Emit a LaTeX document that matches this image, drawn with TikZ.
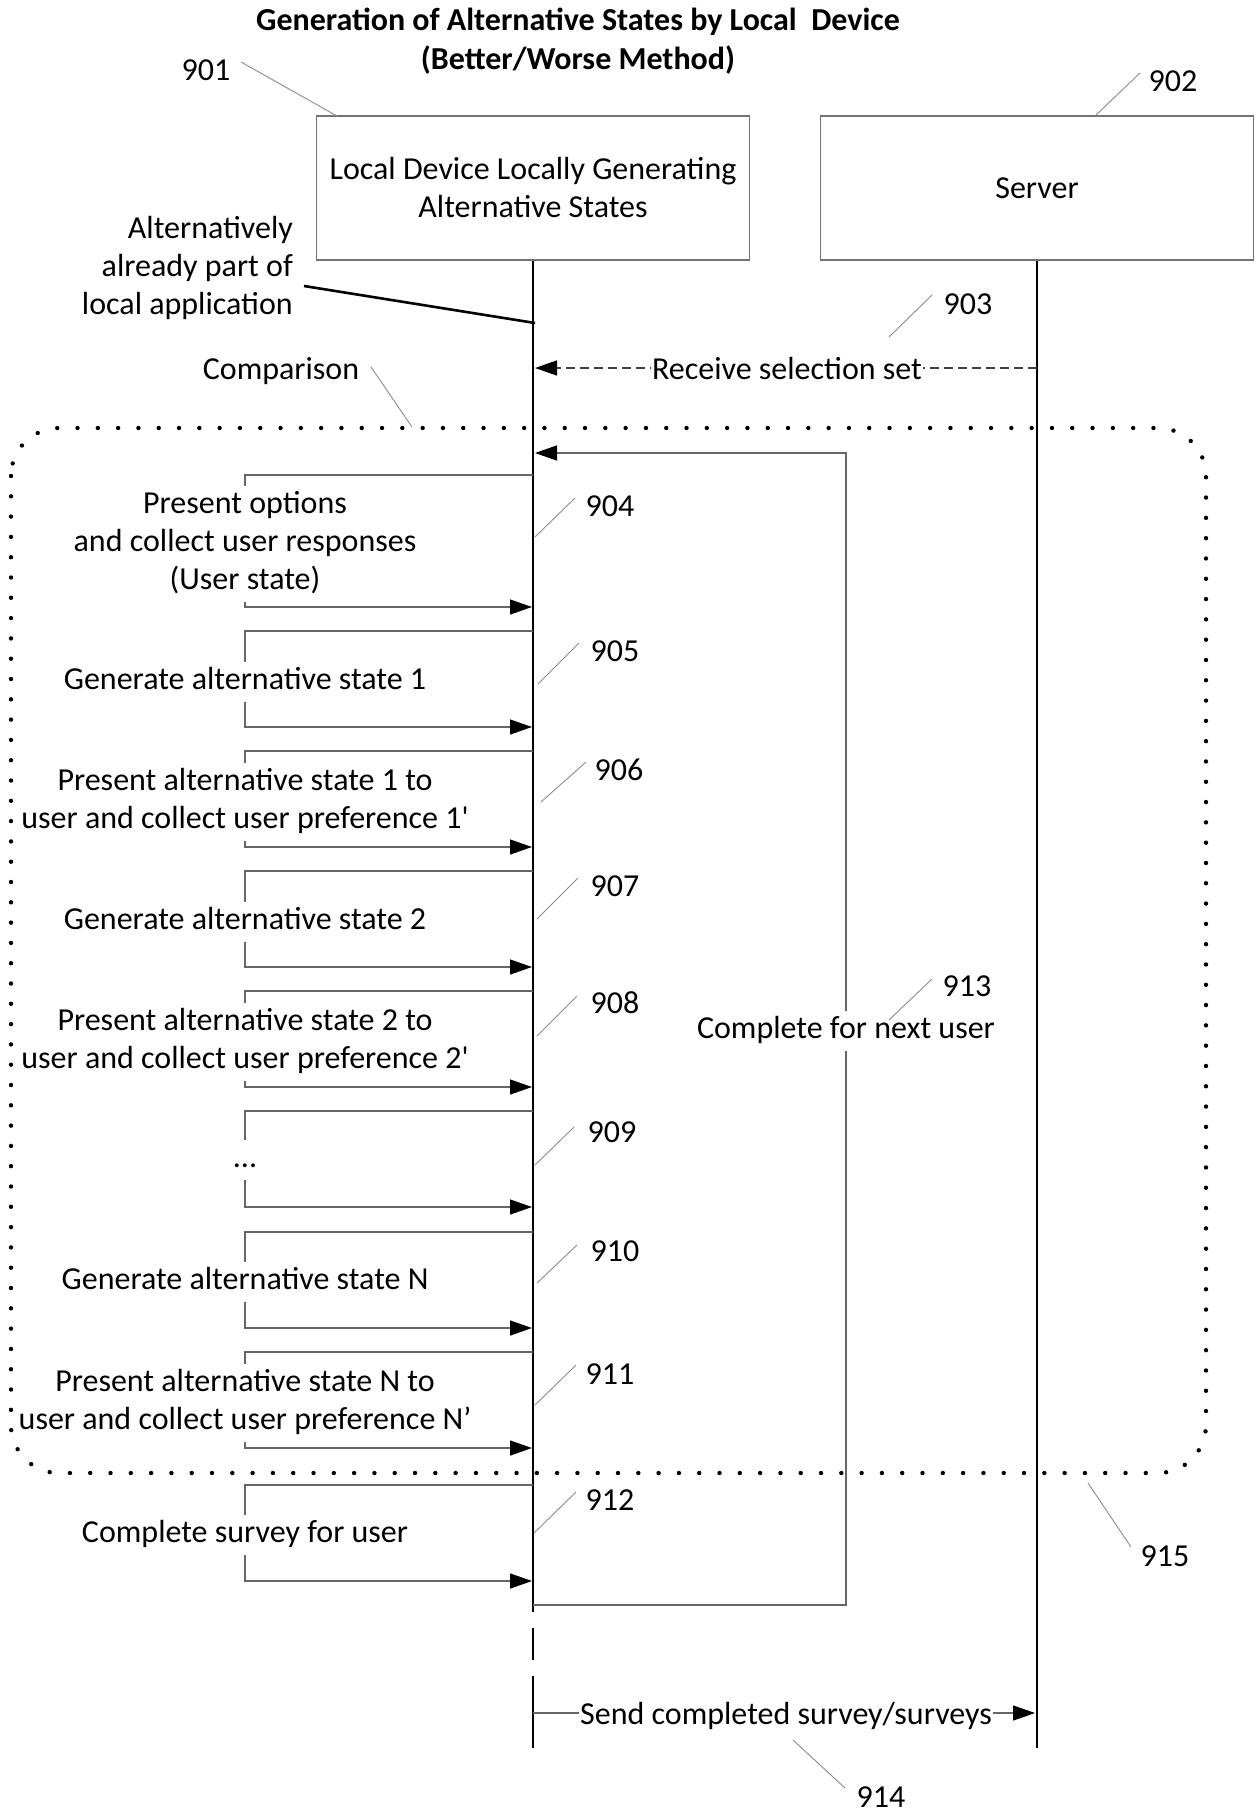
\documentclass[tikz,border=0pt]{standalone}
\usepackage{fontspec}
\setmainfont{Carlito}[Ligatures=TeXOff]
\usetikzlibrary{arrows.meta}

% a call from the device lifeline to itself, routed round its label
\newcommand{\loopmsg}[5]{% #1 name, #2 top y, #3 arrow y, #4 label y, #5 label
  \coordinate (#1t) at (533,#2);
  \coordinate (#1a) at (532,#3);
  \node[msgtext] (#1) at (245,#4) {\strut #5\strut};
  \draw[msg] (#1t) -| (#1.north);
  \draw[msg,arrowend] (#1.south) |- (#1a);
}
% reference numeral with its leader line
\newcommand{\refmark}[5]{%
  \node[lbl] (r#1) at (#2,#3) {#1};
  \draw[lead] (#4) -- (#5);
}

\begin{document}
\begin{tikzpicture}[x=1pt,y=-1pt,
  txt/.style={font=\fontsize{32}{38}\selectfont, inner sep=0pt, align=center},
  lbl/.style={txt},
  box/.style={txt, draw=black!55, line width=1.2pt, minimum width=433pt, minimum height=144pt},
  life/.style={line width=2.4pt, black},
  msg/.style={draw=black!60, line width=1.4pt},
  arrowend/.style={-{Triangle[length=22pt,width=15pt,color=black]}},
  msgtext/.style={txt, fill=white, inner xsep=3pt, inner ysep=1pt},
  lead/.style={draw=black!45, line width=0.9pt},
  dotbox/.style={line width=4.4pt, line cap=round, dash pattern=on 0pt off 20.3pt, rounded corners=48pt}
]
\fill[white] (0,0) rectangle (1256,1812);
\useasboundingbox (0,0) rectangle (1256,1812);

% title
\node[txt, font=\fontsize{32}{39}\selectfont\bfseries] (title) at (578,41)
  {Generation of Alternative States by Local\ \ Device\\(Better/Worse Method)};

% participants
\node[box] (dev) at (533,188) {Local Device Locally Generating\\Alternative States};
\node[box] (srv) at (1037,188) {Server};

% comparison frame
\draw[dotbox] (11,428) rectangle (1206,1473);

% lifelines
\coordinate (devA) at (533,1612);
\coordinate (devB) at (533,1628);
\coordinate (devC) at (533,1660);
\coordinate (devD) at (533,1676);
\coordinate (devE) at (533,1748);
\coordinate (srvE) at (1037,1748);
\draw[life] (dev.south) -- (devA);
\draw[life] (devB) -- (devC);
\draw[life] (devD) -- (devE);
\draw[life] (srv.south) -- (srvE);

% numerals of the participants
\refmark{901}{206}{70}{241,62}{337,116}
\refmark{902}{1173}{81}{1140,73}{1096,115}

% side note
\node[txt, align=right, anchor=east] (alt) at (293,268)
  {Alternatively\\already part of\\local application};
\coordinate (altA) at (304,286);
\coordinate (altB) at (535,323);
\draw[line width=2.6pt] (altA) -- (altB);

% selection set from the server
\coordinate (rcvS) at (1037,368);
\coordinate (rcvE) at (535,368);
\draw[draw=black!75, line width=1.4pt, dash pattern=on 9pt off 5pt, arrowend] (rcvS) -- (rcvE);
\node[msgtext, inner xsep=1pt] (rcv) at (787,369) {Receive selection set};
\refmark{903}{968}{304}{932,295}{889,337}

% comparison label
\node[txt] (cmp) at (281,371) {Comparison};
\draw[lead] (371,367) -- (412,427);

% repeat for next user
\coordinate (lpA) at (533,1605);
\coordinate (lpB) at (846,1605);
\coordinate (lpC) at (846,453);
\coordinate (lpD) at (535,453);
\draw[msg,arrowend] (lpA) -- (lpB) -- (lpC) -- (lpD);
\node[msgtext] (loop) at (846,1031) {\strut Complete for next user};
\refmark{913}{967}{986}{889,1020}{932,979}

% steps on the device
\loopmsg{m1}{475}{607}{544}{Present options\\and collect user responses\\(User state)}
\loopmsg{m2}{631}{727}{682}{Generate alternative state 1}
\loopmsg{m3}{751}{847}{802}{Present alternative state 1 to\\user and collect user preference 1'}
\loopmsg{m4}{871}{967}{922}{Generate alternative state 2}
\loopmsg{m5}{991}{1087}{1042}{Present alternative state 2 to\\user and collect user preference 2'}
\loopmsg{m6}{1111}{1207}{1160}{...}
\loopmsg{m7}{1232}{1328}{1282}{Generate alternative state N}
\loopmsg{m8}{1352}{1448}{1403}{Present alternative state N to\\user and collect user preference N’}
\loopmsg{m9}{1485}{1581}{1535}{Complete survey for user}

\refmark{904}{610}{506}{535,537}{575,498}
\refmark{905}{615}{651}{538,684}{579,643}
\refmark{906}{619}{770}{541,802}{586,762}
\refmark{907}{615}{886}{537,919}{578,878}
\refmark{908}{615}{1003}{537,1036}{577,996}
\refmark{909}{612}{1132}{535,1165}{574,1127}
\refmark{910}{615}{1251}{537,1283}{577,1245}
\refmark{911}{610}{1374}{535,1405}{576,1365}
\refmark{912}{610}{1500}{534,1533}{576,1492}

% completed surveys to the server
\coordinate (sndS) at (533,1713);
\coordinate (sndE) at (1035,1713);
\node[msgtext, inner xsep=1pt] (snd) at (786,1716) {Send completed survey/surveys};
\draw[msg] (sndS) -- (snd.west |- sndS);
\draw[msg,arrowend] (snd.east |- sndE) -- (sndE);
\refmark{914}{881}{1797}{793,1740}{845,1788}

% frame numeral
\refmark{915}{1165}{1556}{1088,1483}{1131,1547}
\end{tikzpicture}
\end{document}
